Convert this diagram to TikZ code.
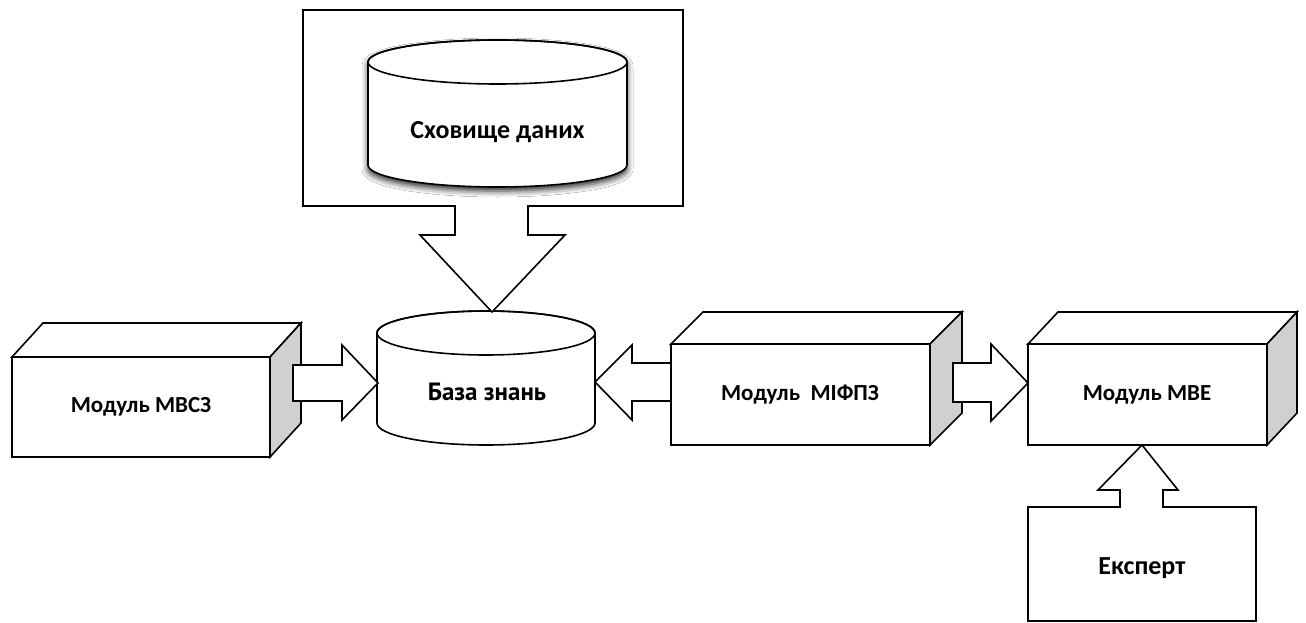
\documentclass[tikz,border=0pt]{standalone}
\usepackage{fontspec}
\setmainfont{Carlito}
\newfontfamily\ptsans{PT Sans}
\usetikzlibrary{shadows,shadows.blur,calc}
\definecolor{sidegray}{HTML}{D0D0D0}
\tikzset{
  ln/.style={draw=black, line width=1.6pt, line join=miter},
  front/.style={ln, fill=white, rectangle, inner sep=0pt, outer sep=0pt},
  sideface/.style={ln, fill=sidegray},
  topface/.style={ln, fill=white},
  blockarrow/.style={ln, fill=white},
  lbl/.style={font=\bfseries\fontsize{23}{27}\selectfont, inner sep=0pt},
}
\begin{document}
\begin{tikzpicture}[x=1pt, y=-1pt]
\useasboundingbox (0,0) rectangle (1306,623);

% ---- data warehouse enclosure ----
\node[front, anchor=north west, minimum width=380, minimum height=196] (store) at (303,10) {};
\path[ln, fill=white, blur shadow={shadow xshift=0pt, shadow yshift=-4pt, shadow blur radius=6pt, shadow opacity=85}]
  (368,62) -- (368,165) arc[start angle=180, end angle=0, x radius=129.5, y radius=22]
  -- (627,62) arc[start angle=0, end angle=-180, x radius=129.5, y radius=22] -- cycle;
\draw[ln] (497.5,62) ellipse[x radius=129.5, y radius=22];
\node[lbl, font=\bfseries\fontsize{26}{30}\selectfont] (dw) at (497.5,132) {Сховище даних};

% ---- knowledge base ----
\path[ln, fill=white]
  (377,333) -- (377,423) arc[start angle=180, end angle=0, x radius=109, y radius=22]
  -- (595,333) arc[start angle=0, end angle=-180, x radius=109, y radius=22] -- cycle;
\draw[ln] (486,333) ellipse[x radius=109, y radius=22];
\node[lbl, font=\ptsans\bfseries\fontsize{25}{29}\selectfont] (kb) at (487,392) {База знань};

% ---- module boxes (front face, top face, shaded side) ----
\node[front, anchor=north west, minimum width=258, minimum height=100] (mvsz) at (12,357) {};
\draw[topface] (mvsz.north west) -- ++(31,-34) -- ($(mvsz.north east)+(31,-34)$) -- (mvsz.north east) -- cycle;
\draw[sideface] (mvsz.north east) -- ++(31,-34) -- ($(mvsz.south east)+(31,-34)$) -- (mvsz.south east) -- cycle;
\node[lbl] (mvszt) at (141,407) {Модуль МВСЗ};

\node[front, anchor=north west, minimum width=259, minimum height=101] (mifpz) at (671,344) {};
\draw[topface] (mifpz.north west) -- ++(32,-32) -- ($(mifpz.north east)+(32,-32)$) -- (mifpz.north east) -- cycle;
\draw[sideface] (mifpz.north east) -- ++(32,-32) -- ($(mifpz.south east)+(32,-32)$) -- (mifpz.south east) -- cycle;
\node[lbl] (mifpzt) at (800,395) {Модуль\ \ МІФПЗ};

\node[front, anchor=north west, minimum width=239, minimum height=101] (mve) at (1028,344) {};
\draw[topface] (mve.north west) -- ++(30,-32) -- ($(mve.north east)+(30,-32)$) -- (mve.north east) -- cycle;
\draw[sideface] (mve.north east) -- ++(30,-32) -- ($(mve.south east)+(30,-32)$) -- (mve.south east) -- cycle;
\node[lbl] (mvet) at (1147,395) {Модуль МВЕ};

% ---- expert ----
\node[front, anchor=north west, minimum width=228, minimum height=114] (exp) at (1028,507) {};
\node[lbl, font=\bfseries\fontsize{26}{30}\selectfont] (expt) at (1142,568) {Експерт};

% ---- block arrows ----
% warehouse -> knowledge base (open into the enclosure)
\fill[white] (455.8,204) rectangle (527.2,208);
\path[blockarrow, draw=none] (455,206) -- (455,235) -- (420,235) -- (492,312) -- (565,235) -- (528,235) -- (528,206) -- cycle;
\draw[ln] (455,205.2) -- (455,235) -- (420,235) -- (492,312) -- (565,235) -- (528,235) -- (528,205.2);

% МВСЗ -> knowledge base
\draw[blockarrow] (293,365) -- (342,365) -- (342,345) -- (378,383) -- (342,420) -- (342,401) -- (293,401) -- cycle;

% МІФПЗ -> knowledge base
\draw[blockarrow] (671,363) -- (632,363) -- (632,345) -- (595,382) -- (632,420) -- (632,401) -- (671,401) -- cycle;

% МІФПЗ -> МВЕ
\draw[blockarrow] (953,363) -- (991,363) -- (991,344) -- (1028,383) -- (991,421) -- (991,402) -- (953,402) -- cycle;

% expert -> МВЕ (open into the expert box)
\fill[white] (1120.8,505) rectangle (1162.2,509);
\path[blockarrow, draw=none] (1120,507) -- (1120,490) -- (1098,490) -- (1142,445) -- (1178,490) -- (1163,490) -- (1163,507) -- cycle;
\draw[ln] (1120,507.8) -- (1120,490) -- (1098,490) -- (1142,445) -- (1178,490) -- (1163,490) -- (1163,507.8);
\end{tikzpicture}
\end{document}
